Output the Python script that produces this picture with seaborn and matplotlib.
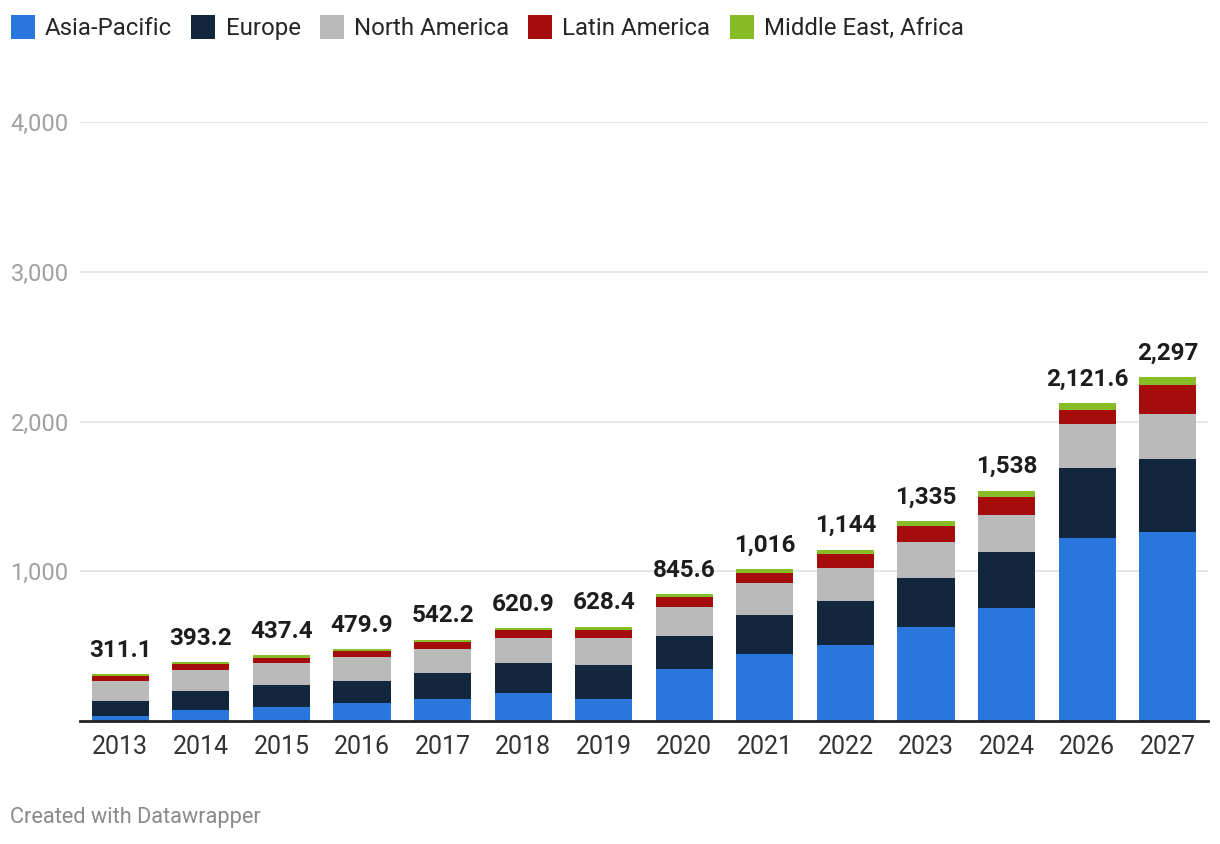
import matplotlib
matplotlib.use("Agg")
import matplotlib.pyplot as plt
import seaborn as sns
import numpy as np
from matplotlib.patches import Patch

years = ["2013", "2014", "2015", "2016", "2017", "2018", "2019",
         "2020", "2021", "2022", "2023", "2024", "2026", "2027"]
asia_pacific = [35, 73, 95, 120, 148, 188, 147, 344, 448, 509, 628, 757, 1224, 1265]
europe = [100, 130, 144, 149, 170, 196, 224, 223, 263, 290, 330, 370, 468, 482]
north_america = [130, 137, 151, 157, 163, 170, 183, 197, 210, 223, 236, 249, 288, 302]
latin_america = [36, 42, 34, 40, 48, 54, 54, 61, 68, 95, 108, 121, 94, 195]
middle_east_africa = [10.1, 11.2, 13.4, 13.9, 13.2, 12.9, 20.4, 20.6, 27, 27, 33, 41, 47.6, 53]
total_labels = ["311.1", "393.2", "437.4", "479.9", "542.2", "620.9", "628.4",
                "845.6", "1,016", "1,144", "1,335", "1,538", "2,121.6", "2,297"]

regions = ["Asia-Pacific", "Europe", "North America", "Latin America", "Middle East, Africa"]
series = [asia_pacific, europe, north_america, latin_america, middle_east_africa]
colors = ["#2977DD", "#12263E", "#BABABA", "#A50C0C", "#88BC26"]

sns.set_style("white")
plt.rcParams["font.family"] = ["Roboto", "DejaVu Sans"]

fig = plt.figure(figsize=(12.2, 8.44), dpi=100)
ax = fig.add_axes([80 / 1220, 1 - 721 / 844, 1128 / 1220, 599 / 844])

bottom = np.zeros(len(years))
for name, vals, col in zip(regions, series, colors):
    sns.barplot(x=years, y=vals, bottom=bottom, color=col, saturation=1,
                width=0.71, errorbar=None, ax=ax, zorder=3, linewidth=0,
                edgecolor="none")
    bottom = bottom + np.array(vals)

# total labels on top of each stack
for i, lab in enumerate(total_labels):
    ax.annotate(lab, (i, bottom[i]), xytext=(0, 9), textcoords="offset points",
                ha="center", va="bottom", fontsize=17.5, fontweight="bold",
                color="#1d1d1d")

ax.set_xlim(-0.5, len(years) - 0.5)
ax.set_ylim(0, 4000)
ax.set_yticks([1000, 2000, 3000, 4000])
ax.set_yticklabels(["1,000", "2,000", "3,000", "4,000"])
for t in ax.get_yticklabels():
    t.set_horizontalalignment("left")
ax.tick_params(axis="y", length=0, pad=50, labelsize=17, labelcolor="#a0a0a0")
ax.tick_params(axis="x", length=0, pad=10, labelsize=18, labelcolor="#333333")
ax.yaxis.grid(True, color="#e2e2e2", linewidth=1.2, zorder=0)
ax.set_axisbelow(True)
for s in ["top", "right", "left"]:
    ax.spines[s].set_visible(False)
ax.spines["bottom"].set_color("#222222")
ax.spines["bottom"].set_linewidth(2)
ax.spines["bottom"].set_zorder(5)
ax.set_xlabel("")
ax.set_ylabel("")

handles = [Patch(facecolor=c, edgecolor="none") for c in colors]
fig.legend(handles, regions, loc="upper left", bbox_to_anchor=(0.0, 0.995),
           ncol=5, frameon=False, fontsize=17.3, handlelength=1.0,
           handleheight=1.15, handletextpad=0.42, columnspacing=0.8,
           borderaxespad=0.15, borderpad=0.3)

fig.text(10 / 1220, 1 - 818 / 844, "Created with Datawrapper", fontsize=15.7,
         color="#8a8a8a", va="center", ha="left")

fig.savefig("out.png", dpi=100)
